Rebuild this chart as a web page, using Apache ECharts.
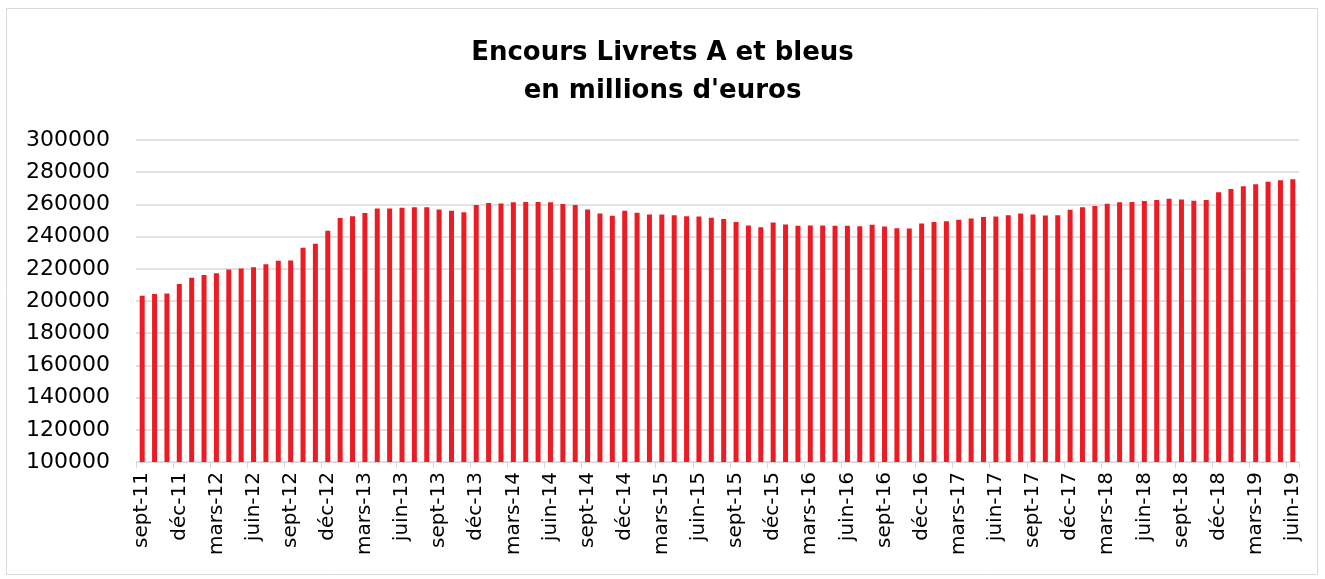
<!DOCTYPE html>
<html>
<head>
<meta charset="utf-8">
<script src="https://cdn.jsdelivr.net/npm/echarts@6/dist/echarts.min.js"></script>
<style>
html, body { margin: 0; padding: 0; background: #fff; }
#chart { width: 1325px; height: 579px; }
</style>
</head>
<body>
<div id="chart"></div>
<script>
// months from sept-11 to juin-19
const monthNames = ['janv', 'févr', 'mars', 'avr', 'mai', 'juin', 'juil', 'août', 'sept', 'oct', 'nov', 'déc']
const categories = []
for (let y = 2011, m = 8; y < 2019 || (y === 2019 && m <= 5); m++) {
    if (m === 12) { m = 0; y++ }
    if (y === 2019 && m > 5) break
    categories.push(monthNames[m] + '-' + String(y).slice(2))
}

// encours en millions d'euros
const encours = [
    203300, 204400, 204600, 210600, 214400, 216200, 217300, 219600, 220200, 221000,
    222900, 225000, 225200, 233100, 235600, 243700, 251500, 252700, 254600, 257500,
    257500, 257900, 258300, 258300, 256900, 256000, 255200, 259600, 260800, 260600,
    261300, 261500, 261500, 261300, 260200, 259600, 256900, 254400, 252900, 256000,
    254800, 253800, 253800, 253300, 252700, 252500, 251700, 251000, 249000, 246900,
    245800, 248800, 247500, 246700, 246900, 246900, 246700, 246700, 246500, 247300,
    246300, 245200, 245000, 248100, 249000, 249600, 250400, 251300, 252100, 252500,
    253300, 254400, 253800, 253100, 253300, 256700, 258300, 259000, 260400, 261300,
    261500, 262100, 262700, 263500, 263100, 262300, 262700, 267500, 269600, 271300,
    272500, 274000, 275000, 275600
]

const yMin = 100000
const yMax = 300000
const yStep = 20000

const myChart = echarts.init(document.getElementById('chart'))
const options = {
    animation: false,
    backgroundColor: '#fff',
    title: {
        text: 'Encours Livrets A et bleus\nen millions d\'euros',
        left: 'center',
        top: 29,
        textStyle: {
            fontFamily: 'DejaVu Sans',
            fontWeight: 'bold',
            fontSize: 26,
            lineHeight: 38,
            color: '#000'
        }
    },
    graphic: [{
        type: 'rect',
        shape: { x: 6.5, y: 8.5, width: 1311, height: 566 },
        style: { fill: 'none', stroke: '#d9d9d9', lineWidth: 1 },
        silent: true
    }],
    grid: {
        left: 136,
        right: 26,
        top: 140,
        bottom: 117,
        containLabel: false
    },
    xAxis: {
        type: 'category',
        data: categories,
        boundaryGap: true,
        axisLine: { lineStyle: { color: '#d9d9d9', width: 1 } },
        axisTick: {
            show: true,
            interval: 2,
            length: 6,
            lineStyle: { color: '#d9d9d9' }
        },
        axisLabel: {
            interval: 2,
            rotate: 90,
            margin: 10,
            fontFamily: 'DejaVu Sans',
            fontSize: 20,
            color: '#000'
        },
        splitLine: { show: false }
    },
    yAxis: {
        type: 'value',
        min: yMin,
        max: yMax,
        interval: yStep,
        axisLine: { show: false },
        axisTick: { show: false },
        axisLabel: {
            margin: 26,
            fontFamily: 'DejaVu Sans',
            fontSize: 22,
            color: '#000',
            formatter: function (v) { return String(v) }
        },
        splitLine: { lineStyle: { color: '#d9d9d9', width: 1.5 } }
    },
    series: [{
        name: 'Encours',
        type: 'bar',
        data: encours,
        barWidth: 5,
        itemStyle: { color: '#ed1c24' }
    }]
}
myChart.setOption(options)
</script>
</body>
</html>
